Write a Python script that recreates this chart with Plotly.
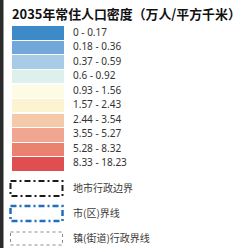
import plotly.graph_objects as go

# ---- data ----
title_text = "2035年常住人口密度（万人/平方千米）"
class_labels = ["0 - 0.17", "0.18 - 0.36", "0.37 - 0.59", "0.6 - 0.92", "0.93 - 1.56",
                "1.57 - 2.43", "2.44 - 3.54", "3.55 - 5.27", "5.28 - 8.32", "8.33 - 18.23"]
class_colors = ["#3d8ac9", "#72a8d9", "#a8cbe6", "#def0ec", "#fdfbe3",
                "#fcf4d0", "#f6caa9", "#f0a690", "#e9836f", "#df4f52"]
line_labels = ["地市行政边界", "市(区)界线", "镇(街道)行政界线"]
line_colors = ["#1a1a1a", "#1f6fbc", "#8a8a8a"]
line_widths = [2, 2.5, 1]
line_dashes = ["6px,3px,2px,3px", "6px,3px,2px,3px", "3px,3px"]

# ---- layout constants (pixel space) ----
W, H = 243, 248
row0, row_step = 33, 14.55
sw_x0, sw_len = 12, 52
lab_x = 73
line_row0, line_step = 188.5, 25

n = len(class_labels)
centers = [row0 + i * row_step for i in range(n)]

fig = go.Figure()
fig.add_trace(go.Bar(
    orientation="h", y=centers, x=[sw_len] * n, base=[sw_x0] * n,
    width=row_step - 1.2, marker=dict(color=class_colors, line=dict(width=0)),
    hoverinfo="skip", showlegend=False))
fig.add_trace(go.Scatter(
    x=[lab_x] * n, y=centers, mode="text", text=class_labels,
    textposition="middle right",
    textfont=dict(family="Noto Sans", size=10, color="#333333"),
    hoverinfo="skip", showlegend=False))

shapes = [dict(type="rect", xref="x", yref="y", x0=0, x1=3.5, y0=0, y1=H,
               fillcolor="#2b2b2b", line=dict(width=0), layer="above")]
ly = [line_row0 + i * line_step for i in range(len(line_labels))]
for i in range(len(line_labels)):
    h = 7.5 if i < 2 else 6.5
    shapes.append(dict(type="rect", xref="x", yref="y", x0=10.5, x1=62.5,
                       y0=ly[i] - h, y1=ly[i] + h,
                       line=dict(color=line_colors[i], width=line_widths[i], dash=line_dashes[i])))
fig.add_trace(go.Scatter(
    x=[lab_x] * len(line_labels), y=[v + 0.5 for v in ly], mode="text", text=line_labels,
    textposition="middle right",
    textfont=dict(family="Noto Sans CJK SC", size=10, color="#3a3a3a"),
    hoverinfo="skip", showlegend=False))

fig.add_annotation(x=10, y=13, xref="x", yref="y", text="<b>" + title_text + "</b>",
                   showarrow=False, xanchor="left", yanchor="middle",
                   font=dict(family="Noto Sans CJK SC", size=12.9, color="#111111"))

fig.update_layout(
    width=W, height=H, margin=dict(l=0, r=0, t=0, b=0),
    paper_bgcolor="white", plot_bgcolor="white", shapes=shapes,
    xaxis=dict(range=[0, W], visible=False, fixedrange=True),
    yaxis=dict(range=[H, 0], visible=False, fixedrange=True),
    bargap=0)

fig.write_html("out.html", config={"displayModeBar": False},
               post_script="document.body.style.margin='0px';document.body.style.overflow='hidden';")
